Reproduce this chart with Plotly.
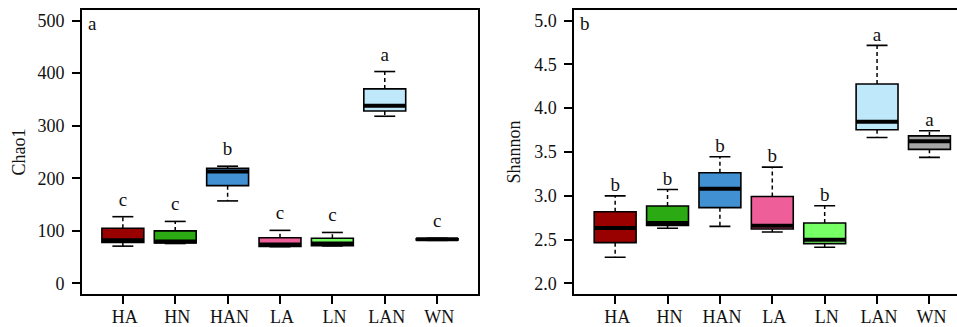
import plotly.graph_objects as go

groups = ["HA", "HN", "HAN", "LA", "LN", "LAN", "WN"]
colors = ["#990000", "#2BAA14", "#4190D2", "#EE5F99", "#77FF66", "#BFE8FA", "#A6A6A6"]

# Chao1 (panel a)
chao_lower = [71, 76, 157, 70, 71.5, 318, 82]
chao_q1 = [78, 77, 186, 70.5, 72, 328, 83]
chao_med = [82, 80, 213, 74, 76, 338, 84]
chao_q3 = [105, 100, 219, 87, 86, 370, 85]
chao_upper = [127, 118, 223, 101, 97, 403, 86]
chao_letters = ["c", "c", "b", "c", "c", "a", "c"]

# Shannon (panel b)
sh_lower = [2.30, 2.63, 2.652, 2.588, 2.413, 3.665, 3.439]
sh_q1 = [2.466, 2.663, 2.865, 2.622, 2.455, 3.753, 3.530]
sh_med = [2.634, 2.69, 3.081, 2.66, 2.50, 3.846, 3.623]
sh_q3 = [2.819, 2.884, 3.263, 2.993, 2.69, 4.275, 3.684]
sh_upper = [3.00, 3.073, 3.445, 3.327, 2.887, 4.716, 3.743]
sh_letters = ["b", "b", "b", "b", "b", "a", "a"]

FONT = "Liberation Serif, Times New Roman, serif"
W, H = 957, 327
xpos = list(range(1, len(groups) + 1))

fig = go.Figure()


def add_panel(xa, ya, lower, q1, med, q3, upper, letters, letter_off):
    for i, g in enumerate(groups):
        x = xpos[i]
        fig.add_trace(go.Box(
            x=[x], q1=[q1[i]], median=[med[i]], q3=[q3[i]],
            lowerfence=[q1[i]], upperfence=[q3[i]],
            width=0.8, fillcolor=colors[i],
            line=dict(color="black", width=1.6),
            xaxis=xa, yaxis=ya, showlegend=False, hoverinfo="skip",
        ))
        # dashed whiskers
        fig.add_trace(go.Scatter(
            x=[x, x, None, x, x], y=[q3[i], upper[i], None, q1[i], lower[i]],
            mode="lines", line=dict(color="black", width=1.5, dash="4px,3px"),
            xaxis=xa, yaxis=ya, showlegend=False, hoverinfo="skip",
        ))
        # caps
        fig.add_trace(go.Scatter(
            x=[x - 0.2, x + 0.2, None, x - 0.2, x + 0.2],
            y=[upper[i], upper[i], None, lower[i], lower[i]],
            mode="lines", line=dict(color="black", width=1.6),
            xaxis=xa, yaxis=ya, showlegend=False, hoverinfo="skip",
        ))
        # thick median
        fig.add_trace(go.Scatter(
            x=[x - 0.4, x + 0.4], y=[med[i], med[i]],
            mode="lines", line=dict(color="black", width=4),
            xaxis=xa, yaxis=ya, showlegend=False, hoverinfo="skip",
        ))
    fig.add_trace(go.Scatter(
        x=xpos, y=[u + letter_off for u in upper], text=letters,
        mode="text", textposition="middle center",
        textfont=dict(family=FONT, size=19, color="#111"),
        xaxis=xa, yaxis=ya, showlegend=False, hoverinfo="skip",
    ))


add_panel("x", "y", chao_lower, chao_q1, chao_med, chao_q3, chao_upper, chao_letters, 30)
add_panel("x2", "y2", sh_lower, sh_q1, sh_med, sh_q3, sh_upper, sh_letters, 0.11)

unit_px = 396 / 7.56
ydom = [1 - 294 / H, 1 - 10 / H]
axis_common = dict(
    showgrid=False, zeroline=False, showline=True, linecolor="black", linewidth=1.8,
    ticks="outside", ticklen=8, tickwidth=1.5, tickcolor="black", automargin=False,
    tickfont=dict(family=FONT, size=18, color="#111"),
)
title_font = dict(family=FONT, size=18, color="#111")

fig.update_layout(
    width=W, height=H, margin=dict(l=0, r=0, t=0, b=0, autoexpand=False),
    paper_bgcolor="white", plot_bgcolor="white",
    xaxis=dict(domain=[82 / W, 478 / W], range=[0.22, 7.78], mirror=True,
               tickvals=xpos, ticktext=groups, anchor="y", ticklabelstandoff=-3,
               ticklabelshift=2, **axis_common),
    yaxis=dict(domain=ydom, range=[-20, 520], mirror=True, tickvals=[0, 100, 200, 300, 400, 500],
               anchor="x", ticklabelstandoff=4,
               title=dict(text="Chao1", font=title_font, standoff=7),
               **axis_common),
    xaxis2=dict(domain=[574.3 / W, 1], range=[0.22, 0.22 + (W - 574.3) / unit_px], mirror=True,
                tickvals=xpos, ticktext=groups, anchor="y2", ticklabelstandoff=-3,
                ticklabelshift=2, **axis_common),
    yaxis2=dict(domain=ydom, range=[1.88, 5.12], mirror=False,
                tickvals=[2.0, 2.5, 3.0, 3.5, 4.0, 4.5, 5.0], tickformat=".1f",
                anchor="x2", ticklabelstandoff=4,
                title=dict(text="Shannon", font=title_font, standoff=9),
                **axis_common),
    annotations=[
        dict(text="a", xref="x domain", yref="y domain", x=0, y=1, xanchor="left", yanchor="top",
             xshift=4, yshift=-1, showarrow=False, font=dict(family=FONT, size=19, color="#111")),
        dict(text="b", xref="x2 domain", yref="y2 domain", x=0, y=1, xanchor="left", yanchor="top",
             xshift=4, yshift=-1, showarrow=False, font=dict(family=FONT, size=19, color="#111")),
    ],
)

fig.write_html("out.html")
